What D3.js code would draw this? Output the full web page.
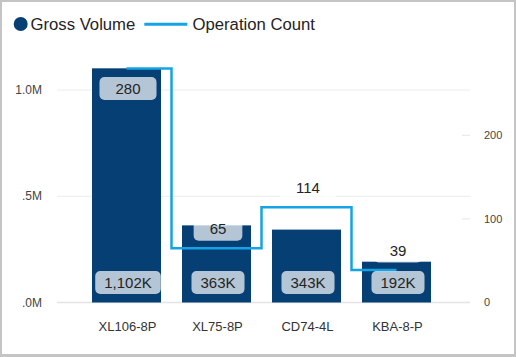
<!DOCTYPE html>
<html><head><meta charset="utf-8">
<script src="https://cdn.jsdelivr.net/npm/d3@7"></script>
<style>
html,body{margin:0;padding:0;background:#c4c4c4;}
svg{display:block;font-family:"Liberation Sans",Arial,sans-serif;}
</style></head>
<body>
<svg id="chart" width="516" height="357"></svg>
<script>
const categories = ["XL106-8P", "XL75-8P", "CD74-4L", "KBA-8-P"];
const grossVolume = [1102000, 363000, 343000, 192000];
const operationCount = [280, 65, 114, 39];
const leftTicks = [0, 500000, 1000000];
const leftTickLabels = [".0M", ".5M", "1.0M"];
const rightTicks = [0, 100, 200];

const barColor = "#053F73";
const lineColor = "#16A3E6";

const svg = d3.select("#chart");
svg.append("rect").attr("x", 2).attr("y", 2).attr("width", 512).attr("height", 352).attr("fill", "#fff");

const x = d3.scaleBand().domain(categories).range([81.5, 441.5]).paddingInner(0.2333).paddingOuter(0.1167);
const y = d3.scaleLinear().domain([0, 1000000]).range([302.5, 90]);
const y2 = d3.scaleLinear().domain([0, 200]).range([302.5, 135.3]);

// gridlines
svg.append("g").selectAll("line").data(leftTicks).join("line")
  .attr("x1", 57).attr("x2", 470)
  .attr("y1", d => y(d)).attr("y2", d => y(d))
  .attr("stroke", d => d === 0 ? "#e4e4e4" : "#ececec")
  .attr("stroke-width", d => d === 0 ? 1.5 : 1);

// left axis labels
svg.append("g").selectAll("text").data(leftTicks).join("text")
  .attr("x", 42).attr("y", d => y(d)).attr("dy", "0.35em")
  .attr("text-anchor", "end").attr("font-size", 12).attr("fill", "#444")
  .text((d, i) => leftTickLabels[i]);

// right axis ticks + labels
svg.append("g").selectAll("line").data(rightTicks.filter(d => d > 0)).join("line")
  .attr("x1", 462).attr("x2", 470)
  .attr("y1", d => y2(d)).attr("y2", d => y2(d))
  .attr("stroke", "#e6e6e6");
svg.append("g").selectAll("text").data(rightTicks).join("text")
  .attr("x", 484).attr("y", d => y2(d)).attr("dy", "0.35em")
  .attr("font-size", 11).attr("fill", "#444")
  .text(d => d);

// x labels
svg.append("g").selectAll("text").data(categories).join("text")
  .attr("x", d => x(d) + x.bandwidth() / 2 + 1).attr("y", 331)
  .attr("text-anchor", "middle").attr("font-size", 13).attr("fill", "#333")
  .text(d => d);

// bars
svg.append("g").selectAll("rect").data(categories).join("rect")
  .attr("x", d => x(d)).attr("width", x.bandwidth())
  .attr("y", (d, i) => y(grossVolume[i]))
  .attr("height", (d, i) => y(0) - y(grossVolume[i]))
  .attr("fill", barColor);

// step line
const pts = categories.map((c, i) => [x(c) + x.bandwidth() / 2, y2(operationCount[i])]);
svg.append("path").attr("d", d3.line().curve(d3.curveStep)(pts))
  .attr("fill", "none").attr("stroke", lineColor).attr("stroke-width", 2.5);

// volume labels
const fmtK = v => d3.format(",")(Math.round(v / 1000)) + "K";
const vg = svg.append("g");
categories.forEach((c, i) => {
  const cx = x(c) + x.bandwidth() / 2 + 1.5;
  const t = vg.append("text").attr("x", cx).attr("y", 282.5).attr("dy", "0.35em")
    .attr("text-anchor", "middle").attr("font-size", 15).attr("fill", "#252423")
    .text(fmtK(grossVolume[i]));
  const w = Math.min(t.node().getComputedTextLength() + 18, x.bandwidth());
  vg.insert("rect", "text").attr("x", cx - w / 2).attr("y", 271).attr("width", w).attr("height", 23)
    .attr("rx", 5).attr("fill", "#fff").attr("fill-opacity", 0.7);
});

// count labels
const cg = svg.append("g");
categories.forEach((c, i) => {
  const cx = x(c) + x.bandwidth() / 2 + 1.5;
  const py = y2(operationCount[i]);
  let ly = py - 19;
  if (ly - 12 < 70) ly = py + 20;
  const t = cg.append("text").attr("x", cx).attr("y", ly).attr("dy", "0.35em")
    .attr("text-anchor", "middle").attr("font-size", 15).attr("fill", "#252423")
    .text(operationCount[i]);
  const w = t.node().getComputedTextLength() + 32;
  cg.insert("rect", "text").attr("x", cx - w / 2).attr("y", ly - 11.5).attr("width", w).attr("height", 23)
    .attr("rx", 5).attr("fill", "#fff").attr("fill-opacity", 0.7);
});

// legend
const lg = svg.append("g");
lg.append("circle").attr("cx", 20.7).attr("cy", 24).attr("r", 7).attr("fill", barColor);
lg.append("text").attr("x", 30.5).attr("y", 24).attr("dy", "0.35em").attr("font-size", 16.7).attr("fill", "#252423").text("Gross Volume");
lg.append("line").attr("x1", 144.3).attr("x2", 187.3).attr("y1", 24.3).attr("y2", 24.3).attr("stroke", lineColor).attr("stroke-width", 3);
lg.append("text").attr("x", 192.5).attr("y", 24).attr("dy", "0.35em").attr("font-size", 16.7).attr("fill", "#252423").text("Operation Count");
</script>
</body></html>
